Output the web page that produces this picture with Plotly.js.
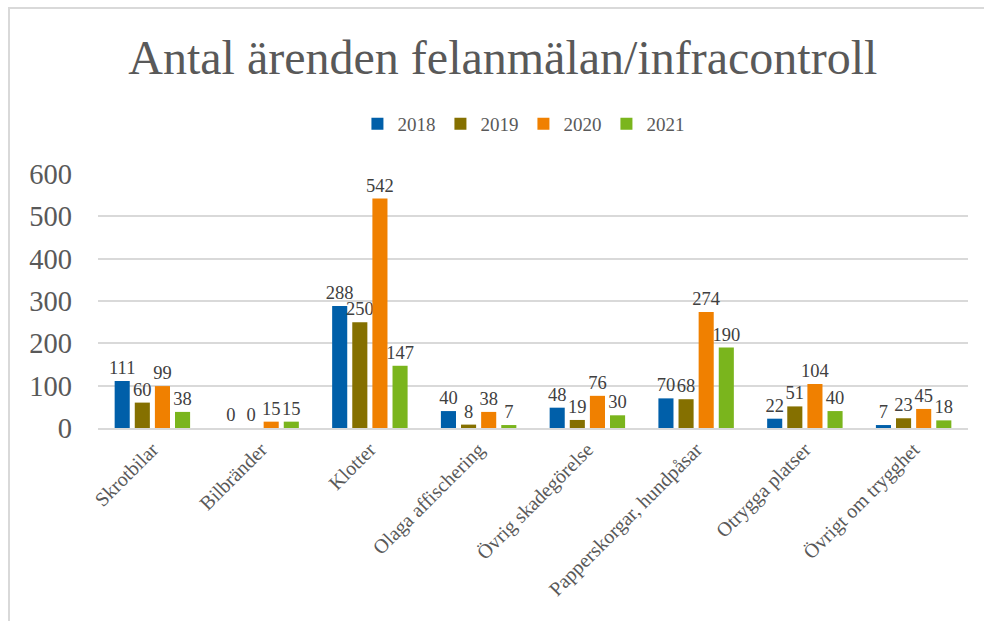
<!DOCTYPE html>
<html>
<head>
<meta charset="utf-8">
<script src="https://cdn.plot.ly/plotly-3.0.1.min.js"></script>
<style>
  body { margin: 0; background: #fff; }
  #ram { position: absolute; left: 8px; top: 7px; width: 990px; height: 630px;
         border-left: 2px solid #d9d9d9; border-top: 2px solid #d9d9d9; }
  #grafico { position: absolute; left: 0; top: 0; width: 984px; height: 621px; }
</style>
</head>
<body>
<div id="ram"></div>
<div id="grafico"></div>
<script>
// Kategorier och värden per år
const kategorier = ['Skrotbilar', 'Bilbränder', 'Klotter', 'Olaga affischering',
    'Övrig skadegörelse', 'Papperskorgar, hundpåsar', 'Otrygga platser', 'Övrigt om trygghet'];
const ar = ['2018', '2019', '2020', '2021'];
const v2018 = [111, 0, 288, 40, 48, 70, 22, 7];
const v2019 = [60, 0, 250, 8, 19, 68, 51, 23];
const v2020 = [99, 15, 542, 38, 76, 274, 104, 45];
const v2021 = [38, 15, 147, 7, 30, 190, 40, 18];
const farger = ['#005FA9', '#857000', '#F08000', '#7AB51D'];

const serier = [v2018, v2019, v2020, v2021];
const typsnitt = 'Liberation Serif';

const traces = serier.map((v, i) => ({
    x: kategorier,
    y: v,
    type: 'bar',
    name: ar[i],
    marker: {color: farger[i]},
    text: v.map(String),
    textposition: 'outside',
    constraintext: 'none',
    textfont: {family: typsnitt, size: 18.5, color: '#404040'},
    cliponaxis: false
}));

const layout = {
    width: 984,
    height: 621,
    paper_bgcolor: 'rgba(0,0,0,0)',
    plot_bgcolor: 'rgba(0,0,0,0)',
    font: {family: typsnitt},
    margin: {l: 98, r: 16, t: 174, b: 193},
    title: {
        text: 'Antal ärenden felanmälan/infracontroll',
        font: {family: typsnitt, size: 48, color: '#595959'},
        x: 0.511, xanchor: 'center',
        y: 1 - 57 / 621, yanchor: 'middle'
    },
    showlegend: true,
    legend: {
        orientation: 'h',
        x: 0.489, xanchor: 'center',
        y: 1 + 50 / 254, yanchor: 'middle',
        font: {family: typsnitt, size: 19, color: '#595959'},
        itemwidth: 30
    },
    barmode: 'group',
    bargap: 0.26,
    bargroupgap: 0.25,
    xaxis: {
        tickangle: -45,
        tickfont: {family: typsnitt, size: 20, color: '#595959'},
        showline: true,
        linecolor: '#d9d9d9',
        linewidth: 2,
        ticks: ''
    },
    yaxis: {
        range: [0, 600],
        dtick: 100,
        showgrid: true,
        gridcolor: '#d9d9d9',
        gridwidth: 1.5,
        zeroline: false,
        tickfont: {family: typsnitt, size: 28.5, color: '#595959'},
        ticklabelstandoff: 25
    }
};

Plotly.newPlot('grafico', traces, layout, {displayModeBar: false});
</script>
</body>
</html>
